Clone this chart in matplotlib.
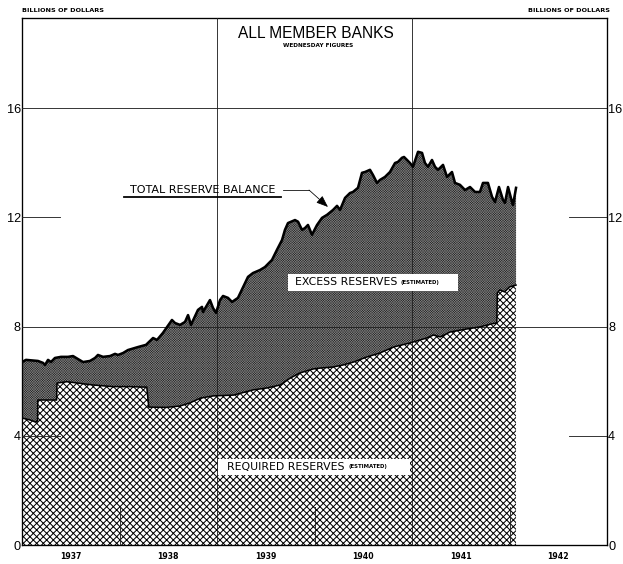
import numpy as np
import matplotlib
matplotlib.use("Agg")
import matplotlib.pyplot as plt
from matplotlib.patches import Rectangle

# Wednesday figures, billions of dollars
# dates as fraction of a year after Jan 1937
total_t = [0.000, 0.041, 0.164, 0.215, 0.236, 0.267, 0.297, 0.338, 0.400, 0.472,
           0.523, 0.574, 0.626, 0.697, 0.749, 0.779, 0.831, 0.903, 0.954, 0.985,
           1.036, 1.087, 1.190, 1.272, 1.344, 1.385, 1.446, 1.538, 1.569, 1.621,
           1.672, 1.703, 1.733, 1.805, 1.846, 1.856, 1.928, 1.959, 1.990, 2.031,
           2.062, 2.113, 2.154, 2.215, 2.318, 2.369, 2.441, 2.492, 2.564, 2.615,
           2.667, 2.697, 2.728, 2.800, 2.831, 2.872, 2.903, 2.933, 2.974, 3.026,
           3.077, 3.128, 3.190, 3.231, 3.262, 3.313, 3.364, 3.395, 3.446, 3.487,
           3.518, 3.569, 3.600, 3.641, 3.672, 3.723, 3.774, 3.826, 3.856, 3.897,
           3.918, 3.949, 3.979, 4.010, 4.062, 4.103, 4.133, 4.164, 4.205, 4.236,
           4.267, 4.318, 4.359, 4.410, 4.441, 4.492, 4.544, 4.595, 4.646, 4.697,
           4.728, 4.779, 4.821, 4.851, 4.892, 4.933, 4.954, 4.985, 5.026, 5.036,
           5.067]
total_v = [6.70, 6.78, 6.74, 6.67, 6.59, 6.78, 6.70, 6.85, 6.89, 6.89,
           6.92, 6.81, 6.70, 6.74, 6.85, 6.96, 6.89, 6.92, 7.00, 6.96,
           7.03, 7.14, 7.25, 7.33, 7.58, 7.51, 7.77, 8.24, 8.13, 8.06,
           8.17, 8.42, 8.06, 8.61, 8.72, 8.53, 8.97, 8.68, 8.50, 8.97,
           9.12, 9.05, 8.90, 9.05, 9.82, 9.96, 10.07, 10.18, 10.44, 10.81,
           11.17, 11.54, 11.79, 11.90, 11.84, 11.54, 11.61, 11.72, 11.36, 11.72,
           11.98, 12.09, 12.27, 12.42, 12.27, 12.71, 12.89, 12.93, 13.08, 13.63,
           13.66, 13.74, 13.55, 13.26, 13.37, 13.48, 13.66, 13.99, 14.03, 14.18,
           14.21, 14.10, 13.99, 13.85, 14.40, 14.36, 13.99, 13.85, 14.10, 13.85,
           13.74, 13.92, 13.48, 13.66, 13.26, 13.19, 13.00, 13.11, 12.93, 12.93,
           13.26, 13.26, 12.75, 12.56, 13.11, 12.64, 12.53, 13.11, 12.56, 12.45,
           13.08]

req_t = [0.000, 0.082, 0.133, 0.160, 0.162, 0.355, 0.359, 0.46, 0.73, 0.93,
         1.10, 1.28, 1.30, 1.48, 1.62, 1.72, 1.83, 1.96, 2.17, 2.37,
         2.51, 2.65, 2.75, 2.85, 2.99, 3.06, 3.19, 3.29, 3.40, 3.54,
         3.67, 3.81, 3.98, 4.15, 4.22, 4.29, 4.39, 4.56, 4.70, 4.82,
         4.870, 4.875, 4.90, 4.95, 5.00, 5.067]
req_v = [4.65, 4.58, 4.51, 4.54, 5.31, 5.31, 5.93, 5.98, 5.86, 5.80,
         5.80, 5.78, 5.05, 5.04, 5.09, 5.20, 5.38, 5.46, 5.49, 5.68,
         5.75, 5.86, 6.11, 6.30, 6.45, 6.48, 6.52, 6.59, 6.70, 6.89,
         7.03, 7.25, 7.40, 7.58, 7.69, 7.62, 7.80, 7.91, 7.99, 8.10,
         8.13, 9.23, 9.34, 9.27, 9.45, 9.52]

years = [1937, 1938, 1939, 1940, 1941, 1942]
yticks = [0, 4, 8, 12, 16]

tx = 1937 + np.array(total_t)
ty = np.array(total_v)
rx = 1937 + np.array(req_t)
ry = np.array(req_v)

lib = ['Liberation Sans', 'DejaVu Sans']

fig = plt.figure(figsize=(623/80, 564/80), dpi=80)
ax = fig.add_axes([22/623, 19/564, 585/623, 527/564])
ax.set_xlim(1937, 1943)
ax.set_ylim(0, 19.3)

# required reserves: white with cross hatch
with plt.rc_context({'hatch.linewidth': 0.9}):
    ax.fill_between(rx, 0, ry, facecolor='white', edgecolor='black',
                    hatch='xxxx', lw=0, zorder=1)
# excess reserves: dark fine pattern between the two curves
with plt.rc_context({'hatch.linewidth': 0.5}):
    ax.fill(np.r_[tx, rx[::-1]], np.r_[ty, ry[::-1]], facecolor='#1e1e1e',
            edgecolor='#7a7a7a', hatch='x' * 11, lw=0, zorder=1)

ax.plot(rx, ry, color='black', lw=1.4, zorder=4)
ax.plot(tx, ty, color='black', lw=2.3, zorder=4, solid_joinstyle='round')

# grid lines
for v in [8, 16]:
    ax.axhline(v, color='#222222', lw=0.8, zorder=3)
for v in [4, 12]:
    ax.axhline(v, xmin=0, xmax=0.065, color='#222222', lw=0.8, zorder=3)
    ax.axhline(v, xmin=0.935, xmax=1, color='#222222', lw=0.8, zorder=3)
for yr in [1939, 1941]:
    ax.axvline(yr, color='#222222', lw=0.8, zorder=3)
for yr in [1938, 1940, 1942]:
    ax.axvline(yr, ymin=0, ymax=0.072, color='#222222', lw=0.8, zorder=3)

for s in ax.spines.values():
    s.set_linewidth(1.2)

ax.set_yticks(yticks)
ax.set_yticklabels([str(v) for v in yticks], family=lib, fontsize=11.5)
ax.tick_params(axis='y', length=0, pad=1, labelright=True)
ax.set_xticks([y + 0.5 for y in years])
ax.set_xticklabels([str(y) for y in years], fontsize=7, fontweight='bold')
ax.tick_params(axis='x', length=0, pad=6)

fig.text(22/623, 1 - 11/564, 'BILLIONS OF DOLLARS', fontsize=5.8, fontweight='bold',
         ha='left', va='center')
fig.text(610/623, 1 - 11/564, 'BILLIONS OF DOLLARS', fontsize=5.8, fontweight='bold',
         ha='right', va='center')

ax.text(1940.015, 18.75, 'ALL MEMBER BANKS', family=lib, fontsize=14,
        ha='center', va='center', zorder=6)
ax.text(1940.04, 18.28, 'WEDNESDAY FIGURES', fontsize=5.2, fontweight='bold',
        ha='center', va='center', zorder=6)

# total reserve balance label with leader
ax.text(1938.856, 13.0, 'TOTAL RESERVE BALANCE', fontsize=10, ha='center',
        va='center', zorder=6)
ax.plot([1938.046, 1939.656], [12.76, 12.76], color='black', lw=1.6, zorder=6)
ax.plot([1939.677, 1939.944], [13.0, 13.0], color='black', lw=0.7, zorder=6)
ax.annotate('', xy=(1940.138, 12.38), xytext=(1939.944, 13.0),
            arrowprops=dict(arrowstyle='-|>,head_length=0.9,head_width=0.35',
                            color='black', lw=0.7, shrinkA=0, shrinkB=0), zorder=6)

# boxed labels
ax.add_patch(Rectangle((1939.73, 9.30), 1.745, 0.63, facecolor='white',
                       edgecolor='none', zorder=5))
ax.text(1940.846, 9.62, 'EXCESS RESERVES', fontsize=9.8, ha='right', va='center', zorder=6)
ax.text(1940.877, 9.62, '(ESTIMATED)', fontsize=4.8, fontweight='bold',
        ha='left', va='center', zorder=6)

ax.add_patch(Rectangle((1939.01, 2.56), 1.97, 0.59, facecolor='white',
                       edgecolor='none', zorder=5))
ax.text(1940.31, 2.86, 'REQUIRED RESERVES', fontsize=9.8, ha='right', va='center', zorder=6)
ax.text(1940.35, 2.86, '(ESTIMATED)', fontsize=4.8, fontweight='bold',
        ha='left', va='center', zorder=6)

fig.savefig('out.png', dpi=80)
